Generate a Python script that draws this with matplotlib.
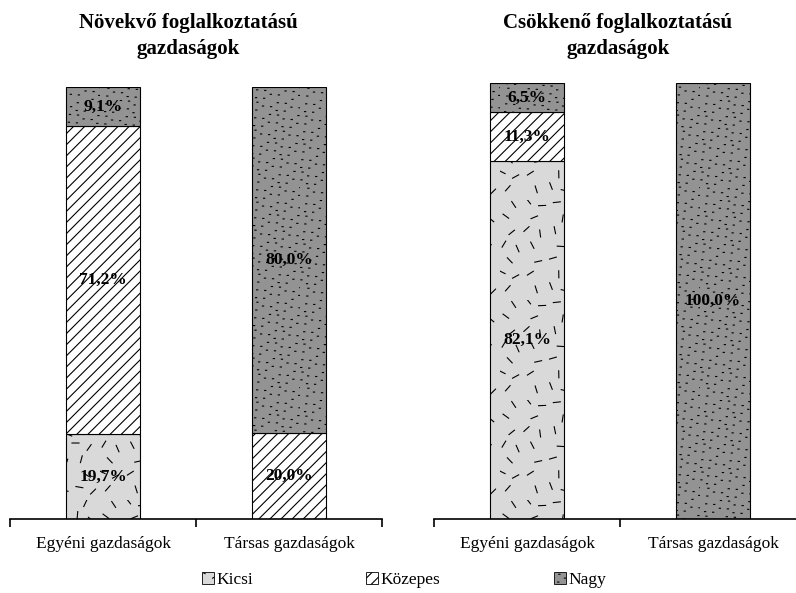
import matplotlib.pyplot as plt
import matplotlib as mpl
import matplotlib.hatch as mhatch
from matplotlib.path import Path
import numpy as np

plt.rcParams['font.family'] = ['Liberation Serif', 'DejaVu Serif']
plt.rcParams['hatch.linewidth'] = 0.8

categories = ['Egyéni gazdaságok', 'Társas gazdaságok']
series = ['Kicsi', 'Közepes', 'Nagy']

# Növekvő foglalkoztatású gazdaságok
grow_kicsi = [19.7, 0.0]
grow_kozepes = [71.2, 20.0]
grow_nagy = [9.1, 80.0]

# Csökkenő foglalkoztatású gazdaságok
drop_kicsi = [82.1, 0.0]
drop_kozepes = [11.3, 0.0]
drop_nagy = [6.5, 100.0]

colors = ['#d9d9d9', 'white', '#939393']
hatches = ['|', '///', '*']


# textures: short scattered dashes ('|') and fine speckles ('*')
def _scatter_pts(n, a, b):
    i = np.arange(1, n + 1)
    return (i * a) % 1.0, (i * b) % 1.0


class DashHatch(mhatch.HatchPatternBase):
    def __init__(self, hatch, density):
        self.n = 38 if '|' in hatch else 0
        self.num_vertices = self.n * 2

    def set_vertices_and_codes(self, vertices, codes):
        x, y = _scatter_pts(self.n, 0.7548776662, 0.5698402910)
        ang = (np.arange(self.n) * 0.6180339887 % 1.0) * np.pi
        dx, dy = 0.035 * np.cos(ang), 0.035 * np.sin(ang)
        vertices[0::2, 0] = x - dx
        vertices[0::2, 1] = y - dy
        vertices[1::2, 0] = x + dx
        vertices[1::2, 1] = y + dy
        codes[0::2] = Path.MOVETO
        codes[1::2] = Path.LINETO


class SpeckleHatch(mhatch.HatchPatternBase):
    def __init__(self, hatch, density):
        self.n = 170 if '*' in hatch else 0
        self.num_vertices = self.n * 2

    def set_vertices_and_codes(self, vertices, codes):
        x, y = _scatter_pts(self.n, 0.7548776662, 0.5698402910)
        vertices[0::2, 0] = x
        vertices[0::2, 1] = y
        vertices[1::2, 0] = x + 0.012
        vertices[1::2, 1] = y
        codes[0::2] = Path.MOVETO
        codes[1::2] = Path.LINETO


mhatch._hatch_types[:] = [mhatch.HorizontalHatch, DashHatch, mhatch.NorthEastHatch,
                          mhatch.SouthEastHatch, SpeckleHatch]

W, H = 796, 593
fig = plt.figure(figsize=(W / 100, H / 100), dpi=100)


def fmt(v):
    return f'{v:.1f}%'.replace('.', ',')


def panel(rect, title, kicsi, kozepes, nagy, title_x):
    ax = fig.add_axes(rect)
    x = np.array([0.5, 1.5])
    bottom = np.zeros(2)
    for vals, c, h in zip([kicsi, kozepes, nagy], colors, hatches):
        vals = np.array(vals)
        ax.bar(x, vals, width=0.403, bottom=bottom, color=c, hatch=h,
               edgecolor='black', linewidth=0.8)
        for xi, v, b in zip(x, vals, bottom):
            if v > 0:
                ax.text(xi, b + v / 2, fmt(v), ha='center', va='center',
                        fontsize=12.5, fontweight='bold')
        bottom = bottom + vals
    ax.set_xlim(0, 2)
    ax.set_ylim(0, 100)
    for s in ['top', 'right', 'left']:
        ax.spines[s].set_visible(False)
    ax.spines['bottom'].set_linewidth(1.2)
    ax.set_yticks([])
    ax.set_xticks([0, 1, 2])
    ax.set_xticklabels([])
    ax.tick_params(axis='x', which='major', length=6, width=1.2, direction='out')
    ax.set_xticks(x, minor=True)
    ax.set_xticklabels(categories, minor=True, fontsize=12.5)
    ax.tick_params(axis='x', which='minor', length=0, pad=12)
    fig.text(title_x / W, 1 - 36 / H, title, ha='center', va='center',
             fontsize=15, fontweight='bold', linespacing=1.35)
    return ax


panel([10 / W, 1 - 519 / H, 372 / W, 432 / H],
      'Növekvő foglalkoztatású\ngazdaságok', grow_kicsi, grow_kozepes, grow_nagy, 188)
panel([434 / W, 1 - 519 / H, 372 / W, 436 / H],
      'Csökkenő foglalkoztatású\ngazdaságok', drop_kicsi, drop_kozepes, drop_nagy, 618)

handles = [mpl.patches.Patch(facecolor=c, hatch=h, edgecolor='black', linewidth=0.6)
           for c, h in zip(colors, hatches)]
fig.legend(handles, series, loc='center', bbox_to_anchor=(404 / W, 1 - 580 / H),
           ncol=3, frameon=False, fontsize=12.5, handlelength=0.7, handleheight=0.7,
           handletextpad=0.15, columnspacing=6.5)

fig.savefig('out.png', dpi=100)
